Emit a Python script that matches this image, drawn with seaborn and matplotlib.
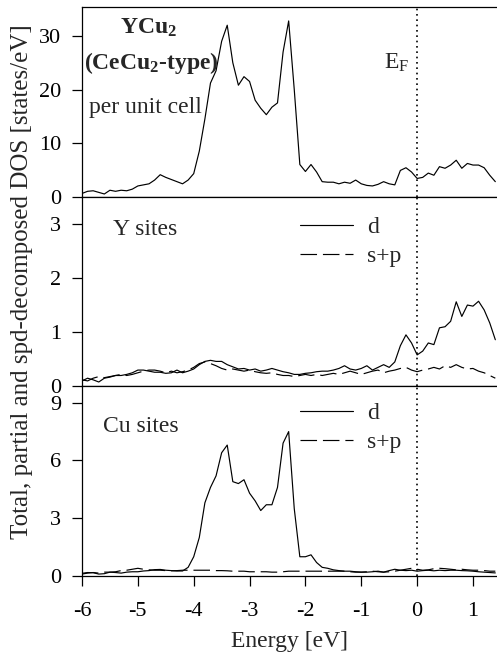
import numpy as np
import pandas as pd
import matplotlib
matplotlib.use("Agg")
import matplotlib.pyplot as plt
import seaborn as sns

# ---------------- data ----------------
energy = [-6.0, -5.9, -5.8, -5.7, -5.6, -5.5, -5.4, -5.3, -5.2, -5.1,
          -5.0, -4.9, -4.8, -4.7, -4.6, -4.5, -4.4, -4.3, -4.2, -4.1,
          -4.0, -3.9, -3.8, -3.7, -3.6, -3.5, -3.4, -3.3, -3.2, -3.1,
          -3.0, -2.9, -2.8, -2.7, -2.6, -2.5, -2.4, -2.3, -2.2, -2.1,
          -2.0, -1.9, -1.8, -1.7, -1.6, -1.5, -1.4, -1.3, -1.2, -1.1,
          -1.0, -0.9, -0.8, -0.7, -0.6, -0.5, -0.4, -0.3, -0.2, -0.1,
          0.0, 0.1, 0.2, 0.3, 0.4, 0.5, 0.6, 0.7, 0.8, 0.9,
          1.0, 1.1, 1.2, 1.3, 1.4]

total_dos = [0.6, 1.0, 1.1, 0.8, 0.5, 1.2, 1.0, 1.2, 1.1, 1.4,
             2.0, 2.2, 2.4, 3.1, 4.1, 3.6, 3.2, 2.8, 2.4, 3.1,
             4.3, 8.5, 14.5, 21.2, 23.5, 29.0, 32.0, 25.0, 20.8, 22.4,
             21.5, 18.0, 16.5, 15.3, 16.7, 17.5, 27.0, 32.8, 20.0, 6.0,
             4.7, 6.0, 4.6, 2.8, 2.7, 2.7, 2.4, 2.7, 2.5, 3.1,
             2.4, 2.1, 2.0, 2.3, 2.8, 2.4, 2.2, 4.9, 5.4, 4.6,
             3.4, 3.6, 4.4, 4.0, 5.6, 5.3, 5.9, 6.8, 5.3, 6.2,
             5.9, 5.9, 5.4, 4.0, 2.8]

y_d = [0.10, 0.15, 0.12, 0.08, 0.15, 0.17, 0.20, 0.20, 0.22, 0.25,
       0.30, 0.30, 0.28, 0.26, 0.26, 0.24, 0.25, 0.30, 0.25, 0.28,
       0.32, 0.40, 0.46, 0.48, 0.46, 0.46, 0.40, 0.36, 0.32, 0.33,
       0.30, 0.32, 0.28, 0.30, 0.33, 0.30, 0.27, 0.25, 0.22, 0.22,
       0.24, 0.25, 0.27, 0.28, 0.28, 0.30, 0.33, 0.38, 0.32, 0.30,
       0.33, 0.38, 0.30, 0.35, 0.40, 0.35, 0.45, 0.75, 0.95, 0.80,
       0.58, 0.65, 0.80, 0.77, 1.08, 1.10, 1.20, 1.56, 1.29, 1.50,
       1.48, 1.57, 1.41, 1.17, 0.86]

y_sp = [0.12, 0.10, 0.15, 0.18, 0.16, 0.18, 0.20, 0.22, 0.20, 0.22,
        0.25, 0.28, 0.30, 0.30, 0.28, 0.25, 0.28, 0.25, 0.27, 0.30,
        0.35, 0.42, 0.45, 0.42, 0.38, 0.33, 0.30, 0.32, 0.30, 0.28,
        0.30, 0.27, 0.25, 0.24, 0.25, 0.22, 0.20, 0.20, 0.18, 0.20,
        0.22, 0.20, 0.22, 0.20, 0.22, 0.24, 0.22, 0.25, 0.28, 0.25,
        0.22, 0.25, 0.28, 0.30, 0.25, 0.28, 0.30, 0.33, 0.35, 0.30,
        0.27, 0.30, 0.32, 0.35, 0.32, 0.38, 0.35, 0.40, 0.35, 0.32,
        0.33, 0.28, 0.25, 0.20, 0.15]

cu_d = [0.14, 0.18, 0.17, 0.10, 0.12, 0.20, 0.18, 0.15, 0.20, 0.22,
        0.22, 0.26, 0.28, 0.33, 0.34, 0.30, 0.28, 0.26, 0.26, 0.45,
        1.0, 2.0, 3.8, 4.6, 5.2, 6.4, 6.8, 4.9, 4.8, 5.0,
        4.3, 3.9, 3.4, 3.7, 3.7, 4.6, 6.9, 7.5, 3.5, 1.0,
        1.0, 1.1, 0.7, 0.45, 0.40, 0.32, 0.28, 0.25, 0.25, 0.22,
        0.20, 0.20, 0.22, 0.25, 0.20, 0.28, 0.35, 0.30, 0.28, 0.30,
        0.25, 0.28, 0.30, 0.27, 0.30, 0.28, 0.30, 0.30, 0.28, 0.27,
        0.25, 0.22, 0.20, 0.18, 0.16]

cu_sp = [0.10, 0.15, 0.18, 0.15, 0.20, 0.20, 0.22, 0.28, 0.30, 0.35,
         0.40, 0.35, 0.32, 0.30, 0.30, 0.28, 0.27, 0.28, 0.30, 0.30,
         0.30, 0.30, 0.30, 0.30, 0.28, 0.28, 0.27, 0.25, 0.25, 0.25,
         0.22, 0.22, 0.22, 0.22, 0.20, 0.20, 0.22, 0.25, 0.25, 0.25,
         0.25, 0.25, 0.25, 0.25, 0.25, 0.25, 0.25, 0.25, 0.22, 0.20,
         0.20, 0.22, 0.25, 0.22, 0.20, 0.22, 0.25, 0.30, 0.35, 0.40,
         0.35, 0.30, 0.32, 0.38, 0.40, 0.38, 0.35, 0.32, 0.35, 0.32,
         0.30, 0.30, 0.28, 0.25, 0.25]

xticks = [-6, -5, -4, -3, -2, -1, 0, 1]
top_yticks = [0, 10, 20, 30]
mid_yticks = [0, 1, 2, 3]
bot_yticks = [0, 3, 6, 9]

for arr in (total_dos, y_d, y_sp, cu_d, cu_sp):
    assert len(arr) == len(energy)

# ---------------- style ----------------
sns.set_theme(style="ticks")
FS = 17      # annotation text
TFS = 16     # tick labels
LFS = 18     # y label
plt.rcParams.update({
    "font.family": ["Liberation Serif", "DejaVu Serif"],
    "font.size": FS,
    "axes.unicode_minus": False,
    "mathtext.fontset": "custom",
    "mathtext.rm": "Liberation Serif",
    "mathtext.it": "Liberation Serif:italic",
    "mathtext.bf": "Liberation Serif:bold",
    "axes.linewidth": 0.9,
    "axes.edgecolor": "black",
    "xtick.color": "black",
    "ytick.color": "black",
    "xtick.major.size": 7,
    "ytick.major.size": 7,
    "xtick.major.width": 0.9,
    "ytick.major.width": 0.9,
    "xtick.direction": "out",
    "ytick.direction": "out",
})

fig = plt.figure(figsize=(4.97, 6.65), dpi=100)
axes = fig.subplots(3, 1, sharex=True, gridspec_kw=dict(hspace=0))
fig.subplots_adjust(left=0.165, right=1.0, bottom=1 - 576 / 665, top=1 - 7 / 665)

df = pd.DataFrame({"Energy": energy, "total": total_dos, "Y_d": y_d, "Y_sp": y_sp,
                   "Cu_d": cu_d, "Cu_sp": cu_sp})

LW = 0.85
DASH = (14, 5)

ax0, ax1, ax2 = axes
sns.lineplot(data=df, x="Energy", y="total", ax=ax0, color="black", lw=LW)
sns.lineplot(data=df, x="Energy", y="Y_d", ax=ax1, color="black", lw=LW, label="d")
sns.lineplot(data=df, x="Energy", y="Y_sp", ax=ax1, color="black", lw=LW, label="s+p")
ax1.lines[-1].set_dashes(DASH)
sns.lineplot(data=df, x="Energy", y="Cu_d", ax=ax2, color="black", lw=LW, label="d")
sns.lineplot(data=df, x="Energy", y="Cu_sp", ax=ax2, color="black", lw=LW, label="s+p")
ax2.lines[-1].set_dashes(DASH)

ylims = [(0, 35.4), (0, 3.5), (0, 9.85)]
yt = [top_yticks, mid_yticks, bot_yticks]
for ax, yl, t in zip(axes, ylims, yt):
    ax.set_xlim(-6, 1.43)
    ax.set_ylim(*yl)
    ax.set_yticks(t)
    ax.set_ylabel("")
    ax.set_xlabel("")
    ax.spines["right"].set_visible(False)
    ax.axvline(0, color="black", ls=(0, (1, 2.2)), lw=1.2, zorder=1)
    ax.tick_params(axis="y", labelsize=TFS, pad=8)

ax0.tick_params(axis="x", length=0, labelbottom=False)
ax1.tick_params(axis="x", length=0, labelbottom=False)
ax2.set_xticks(xticks)
ax2.tick_params(axis="x", labelsize=TFS, pad=12)
ax2.set_xlabel("Energy [eV]", fontsize=FS, labelpad=7)

# annotations
ax0.text(0.161, 0.889, "YCu$_\\mathbf{2}$", transform=ax0.transAxes, ha="center",
         va="center", fontweight="bold", fontsize=FS)
ax0.text(0.166, 0.704, "(CeCu$_\\mathbf{2}$-type)", transform=ax0.transAxes, ha="center",
         va="center", fontweight="bold", fontsize=FS)
ax0.text(0.154, 0.47, "per unit cell", transform=ax0.transAxes, ha="center",
         va="center", fontsize=FS)
ax0.text(0.759, 0.704, "E$_\\mathrm{F}$", transform=ax0.transAxes, ha="center",
         va="center", fontsize=FS)

ax1.text(0.075, 0.825, "Y sites", transform=ax1.transAxes, ha="left", va="center",
         fontsize=FS)
ax2.text(0.05, 0.79, "Cu sites", transform=ax2.transAxes, ha="left", va="center",
         fontsize=FS)

for ax, ytop in ((ax1, 0.895), (ax2, 0.915)):
    ax.legend(loc="upper left", bbox_to_anchor=(0.525, ytop), frameon=False,
              fontsize=FS, handlelength=2.25, handletextpad=0.6, borderpad=0,
              borderaxespad=0, labelspacing=0.32)

fig.text(0.045, 1 - 282 / 665, "Total, partial and spd-decomposed DOS [states/eV]",
         rotation=90, ha="center", va="center", fontsize=LFS)

fig.savefig("out.png", dpi=100)
